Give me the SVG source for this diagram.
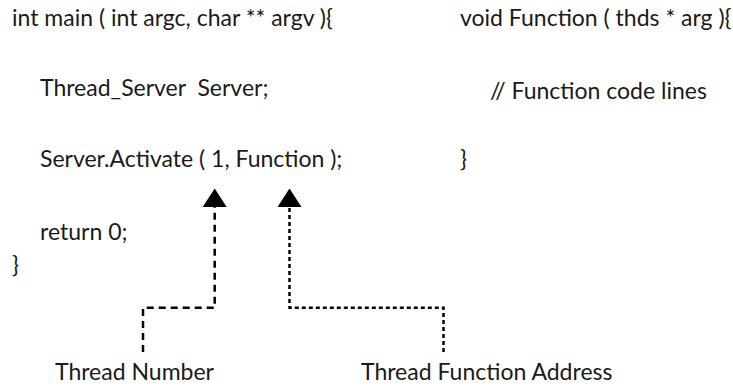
<svg xmlns="http://www.w3.org/2000/svg" width="733" height="387" viewBox="0 0 733 387">
  <style>
    .code { font-family: Lato, "Noto Sans", sans-serif; font-size: 23px; fill: #1a1a1a; white-space: pre; }
    .conn { fill: none; stroke: #000; stroke-width: 2.5; }
    .long { stroke-dasharray: 7 5; }
    .short { stroke-dasharray: 4 3; }
    .head { fill: #000; }
  </style>
  <rect width="733" height="387" fill="#fff"/>

  <!-- main() listing -->
  <g id="main-code">
    <text class="code" x="12" y="26">int main ( int argc, char ** argv ){</text>
    <text class="code" x="40" y="96" xml:space="preserve">Thread_Server  Server;</text>
    <text class="code" x="40" y="167">Server.Activate ( 1, Function );</text>
    <text class="code" x="40" y="240">return 0;</text>
    <text class="code" x="12" y="273">}</text>
  </g>

  <!-- thread function listing -->
  <g id="function-code">
    <text class="code" x="460" y="26">void Function ( thds * arg ){</text>
    <text class="code" x="490" y="99">// Function code lines</text>
    <text class="code" x="460" y="167">}</text>
  </g>

  <g id="label-thread-number">
    <text class="code" x="55" y="380">Thread Number</text>
  </g>
  <g id="label-function-address">
    <text class="code" x="361" y="380">Thread Function Address</text>
  </g>

  <!-- callouts: dashed elbows ending in solid arrowheads -->
  <g id="connectors">
    <path class="conn long" d="M143,352 L143,307.7 L214.7,307.7 L214.7,206"/>
    <polygon class="head" points="214.7,188.5 202.7,207 226.7,207"/>
    <path class="conn short" d="M443.5,352 L443.5,307.7 L289.5,307.7 L289.5,206"/>
    <polygon class="head" points="289.5,188.5 277.5,207 301.5,207"/>
  </g>
</svg>
